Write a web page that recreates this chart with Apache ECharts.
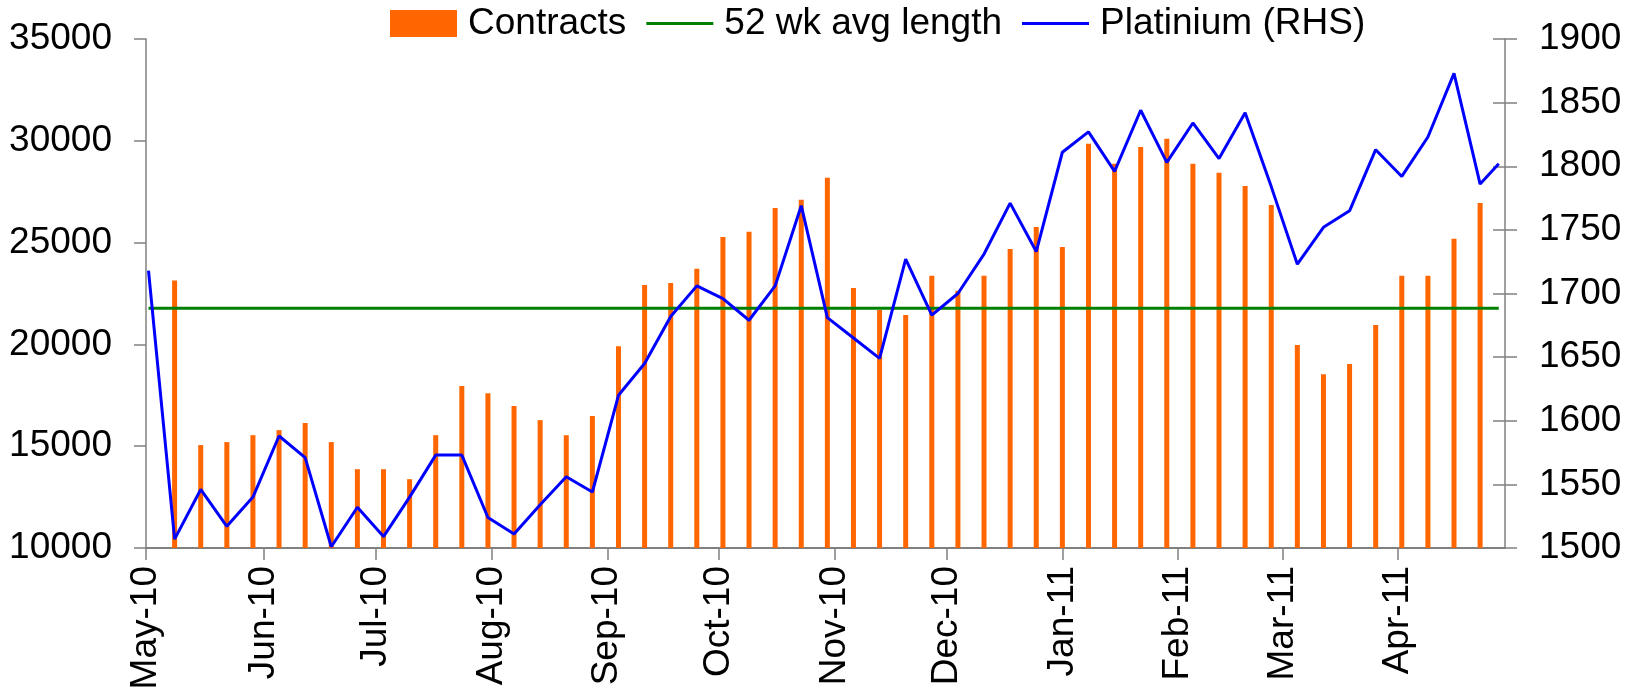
<!DOCTYPE html>
<html>
<head>
<meta charset="utf-8">
<script src="https://cdn.jsdelivr.net/npm/echarts@6/dist/echarts.min.js"></script>
<style>
  html, body { margin: 0; padding: 0; background: #fff; }
  #main { width: 1626px; height: 693px; }
</style>
</head>
<body>
<div id="main"></div>
<script>
// weekly observation dates
const weeks = [
  '2010-05-01', '2010-05-08', '2010-05-15', '2010-05-22', '2010-05-29',
  '2010-06-05', '2010-06-12', '2010-06-19', '2010-06-26',
  '2010-07-03', '2010-07-10', '2010-07-17', '2010-07-24', '2010-07-31',
  '2010-08-07', '2010-08-14', '2010-08-21', '2010-08-28',
  '2010-09-04', '2010-09-11', '2010-09-18', '2010-09-25',
  '2010-10-02', '2010-10-09', '2010-10-16', '2010-10-23', '2010-10-30',
  '2010-11-06', '2010-11-13', '2010-11-20', '2010-11-27',
  '2010-12-04', '2010-12-11', '2010-12-18', '2010-12-25',
  '2011-01-01', '2011-01-08', '2011-01-15', '2011-01-22', '2011-01-29',
  '2011-02-05', '2011-02-12', '2011-02-19', '2011-02-26',
  '2011-03-05', '2011-03-12', '2011-03-19', '2011-03-26',
  '2011-04-02', '2011-04-09', '2011-04-16', '2011-04-23', '2011-04-28'
];

// open contracts (LHS), no bar on first and last point
const contracts = [
  null, 23140, 15055, 15200, 15540, 15790, 16140, 15200, 13870, 13870,
  13380, 15540, 17960, 17600, 16970, 16280, 15540, 16480, 19910, 22920,
  23010, 23710, 25280, 25530, 26700, 27100, 28180, 22770, 21690, 21440,
  23370, 22630, 23370, 24690, 25770, 24790, 29860, 28870, 29700, 30100,
  28870, 28430, 27780, 26850, 19970, 18540, 19040, 20950, 23370, 23370,
  25190, 26950, null
];

// platinum price (RHS)
const platinum = [
  1718, 1507, 1546, 1517, 1540, 1588, 1571, 1501, 1532, 1509,
  1540, 1573, 1573, 1524, 1511, 1534, 1556, 1544, 1620, 1645,
  1682, 1706, 1696, 1679, 1706, 1769, 1681, 1665, 1649, 1727,
  1683, 1700, 1731, 1771, 1733, 1811, 1827, 1796, 1844, 1803,
  1834, 1806, 1842, 1784, 1723, 1752, 1765, 1813, 1792, 1823,
  1873, 1786, 1802
];

// 52 week average of contracts (flat line)
const avgLength = 21770;

const leftTicks = { min: 10000, max: 35000, step: 5000 };
const rightTicks = { min: 1500, max: 1900, step: 50 };
const monthNames = ['Jan', 'Feb', 'Mar', 'Apr', 'May', 'Jun', 'Jul', 'Aug', 'Sep', 'Oct', 'Nov', 'Dec'];

const DAY = 24 * 3600 * 1000;
function toTime(s) {
  const p = s.split('-');
  return new Date(+p[0], +p[1] - 1, +p[2]).getTime();
}

const FONT = "'Liberation Sans', Arial, sans-serif";
const AXIS_COLOR = '#808080';
// flat bar in the middle of the legend box, used as a line symbol
const LINE_ICON = 'path://M0,0h0.01v0.01h-0.01z M0,12h67v3h-67z M66.99,26.99h0.01v0.01h-0.01z';

const chart = echarts.init(document.getElementById('main'), null, { renderer: 'canvas' });

const option = {
  backgroundColor: '#ffffff',
  animation: false,
  textStyle: { fontFamily: FONT, color: '#000' },
  legend: {
    left: 390,
    top: 5,
    padding: 0,
    itemWidth: 67,
    itemHeight: 27,
    itemGap: 20,
    textStyle: { fontFamily: FONT, fontSize: 37, color: '#000', padding: [0, 0, 0, 6] },
    data: [
      { name: 'Contracts', icon: 'rect' },
      { name: '52 wk avg length', icon: LINE_ICON },
      { name: 'Platinium (RHS)', icon: LINE_ICON }
    ]
  },
  grid: {
    left: 146,
    right: 121,
    top: 39,
    bottom: 145,
    containLabel: false,
    outerBoundsMode: 'none'
  },
  xAxis: {
    type: 'time',
    min: toTime('2010-05-01'),
    max: toTime('2011-04-29'),
    splitNumber: 12,
    minInterval: 28 * DAY,
    maxInterval: 31 * DAY,
    axisLine: { lineStyle: { color: AXIS_COLOR, width: 2 } },
    axisTick: { show: true, length: 12, lineStyle: { color: AXIS_COLOR, width: 1.5 } },
    splitLine: { show: false },
    minorTick: { show: false },
    axisLabel: {
      rotate: 90,
      margin: 18,
      fontSize: 37,
      fontFamily: FONT,
      color: '#000',
      showMinLabel: true,
      formatter: function (val) {
        // ticks sit on month starts; nudge forward so rounding never drops a month
        const d = new Date(val + 10 * DAY);
        return monthNames[d.getMonth()] + '-' + String(d.getFullYear()).slice(2);
      }
    }
  },
  yAxis: [
    {
      type: 'value',
      position: 'left',
      min: leftTicks.min,
      max: leftTicks.max,
      interval: leftTicks.step,
      axisLine: { show: true, lineStyle: { color: AXIS_COLOR, width: 1.5 } },
      axisTick: { show: true, length: 12, lineStyle: { color: AXIS_COLOR, width: 1.5 } },
      splitLine: { show: false },
      axisLabel: {
        margin: 34, fontSize: 37, fontFamily: FONT, color: '#000',
        formatter: v => String(v)
      }
    },
    {
      type: 'value',
      position: 'right',
      min: rightTicks.min,
      max: rightTicks.max,
      interval: rightTicks.step,
      axisLine: { show: true, lineStyle: { color: AXIS_COLOR, width: 1.5 } },
      axisTick: { show: true, length: 12, lineStyle: { color: AXIS_COLOR, width: 1.5 } },
      splitLine: { show: false },
      axisLabel: {
        margin: 34, fontSize: 37, fontFamily: FONT, color: '#000',
        formatter: v => String(v)
      }
    },
    {
      // inner half of the crossing ticks on the right axis
      type: 'value',
      position: 'right',
      min: rightTicks.min,
      max: rightTicks.max,
      interval: rightTicks.step,
      axisLine: { show: false },
      axisTick: { show: true, inside: true, length: 12, lineStyle: { color: AXIS_COLOR, width: 1.5 } },
      splitLine: { show: false },
      axisLabel: { show: false }
    }
  ],
  series: [
    {
      name: 'Contracts',
      type: 'bar',
      yAxisIndex: 0,
      barWidth: 5,
      itemStyle: { color: '#FF6600' },
      data: weeks.map((d, i) => [toTime(d), contracts[i] === null ? '-' : contracts[i]])
    },
    {
      name: '52 wk avg length',
      type: 'line',
      yAxisIndex: 0,
      symbol: 'none',
      lineStyle: { color: '#008000', width: 3 },
      itemStyle: { color: '#008000' },
      data: weeks.map(d => [toTime(d), avgLength])
    },
    {
      name: 'Platinium (RHS)',
      type: 'line',
      yAxisIndex: 1,
      symbol: 'none',
      lineStyle: { color: '#0000FF', width: 3 },
      itemStyle: { color: '#0000FF' },
      data: weeks.map((d, i) => [toTime(d), platinum[i]])
    }
  ]
};

chart.setOption(option);
</script>
</body>
</html>
